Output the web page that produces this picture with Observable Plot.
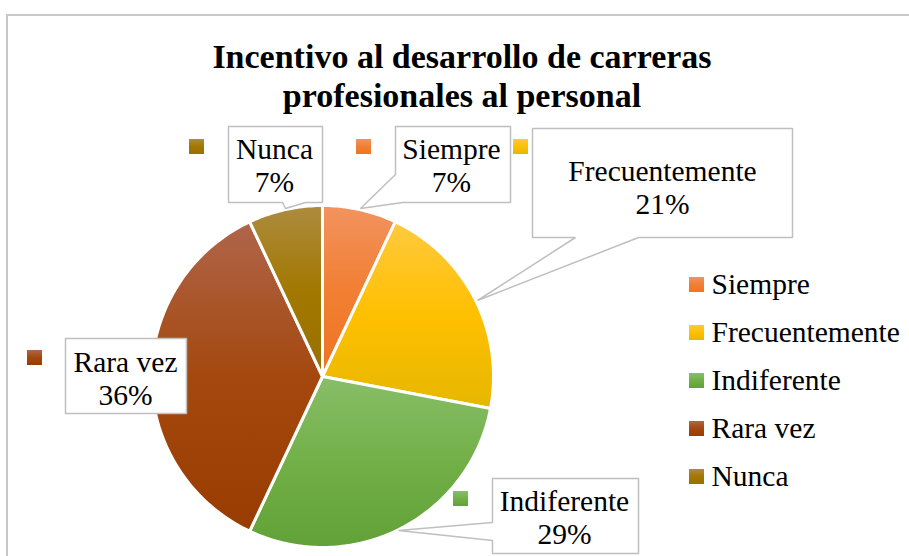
<!DOCTYPE html>
<html><head><meta charset="utf-8">
<script src="https://cdn.jsdelivr.net/npm/d3@7"></script>
<script src="https://cdn.jsdelivr.net/npm/@observablehq/plot@0.6"></script>
<style>
html,body{margin:0;padding:0;background:#fff;overflow:hidden;}
#wrap{position:relative;width:909px;height:556px;overflow:hidden;}
#frame{position:absolute;left:6px;top:14px;width:1000px;height:1000px;border-left:2px solid #c8c8c8;border-top:2px solid #c8c8c8;pointer-events:none;}
#title{margin:0;padding-top:37px;padding-left:15px;width:894px;height:78px;text-align:center;font:bold 34px/39px "Liberation Serif","Times New Roman",serif;color:#000;}
#chart svg{display:block}
</style></head>
<body><div id="wrap"><div id="frame"></div><div id="title">Incentivo al desarrollo de carreras<br>profesionales al personal</div><div id="chart"></div></div>
<script>
// ---- data ----
const names = ["Siempre", "Frecuentemente", "Indiferente", "Rara vez", "Nunca"];
const percents = [7, 21, 29, 36, 7];
// gradient colours per slice (top, middle, bottom)
const topColors = ["#F2935F", "#FFC93F", "#88BE69", "#B0654A", "#AD8B3F"];
const midColors = ["#F17F33", "#FFC000", "#72B047", "#A4480F", "#A27800"];
const bottomColors = ["#EE7420", "#E6B700", "#61A138", "#993C00", "#9A7000"];

// ---- layout (page pixels) ----
const TOP = 115, W = 909, H = 556 - TOP;
const PIE = {cx: 322, cy: 376, r: 171};
const calloutShapes = [
  [[395,126],[510,126],[510,202],[402,202],[360,208],[395,174]],
  [[532,128],[792,128],[792,237],[638,237],[477,300],[575,237],[532,237]],
  [[492,478],[638,478],[638,553],[492,553],[492,540],[398,530],[492,522]],
  [[65,338],[186,338],[186,413],[65,413]],
  [[228,126],[322,126],[322,202],[305,202],[285,208],[282,202],[228,202]]
];
const labelCenters = [[451,164],[662,186],[564,516],[125,377],[274,164]];
const labelKeys = [[356,139],[513,139],[453,491],[27,350],[189,139]];
const KEY = 15;
const LEGEND = {x: 689, y: 277, step: 48, textX: 711};
const FONT = "'Liberation Serif','Times New Roman',serif";
const FS = 29.5;

// ---- derived tables ----
const arcs = d3.pie().sort(null).value(d => d)(percents);
const slicePoints = [];
arcs.forEach((a, i) => {
  slicePoints.push({name: names[i], x: PIE.cx, y: PIE.cy});
  const n = Math.max(2, Math.ceil((a.endAngle - a.startAngle) / (Math.PI / 180)));
  for (let k = 0; k <= n; k++) {
    const t = a.startAngle + (a.endAngle - a.startAngle) * k / n;
    slicePoints.push({name: names[i], x: PIE.cx + PIE.r * Math.sin(t), y: PIE.cy - PIE.r * Math.cos(t)});
  }
});
const calloutPoints = calloutShapes.flatMap((pts, i) => pts.map(([x, y]) => ({name: names[i], x, y})));
const labels = names.map((n, i) => ({name: n, x: labelCenters[i][0], y: labelCenters[i][1], text: `${n}\n${percents[i]}%`}));
const keys = names.map((n, i) => ({name: n, x1: labelKeys[i][0], x2: labelKeys[i][0] + KEY, y1: labelKeys[i][1], y2: labelKeys[i][1] + KEY}));
const legendRows = names.map((n, i) => ({name: n, x1: LEGEND.x, x2: LEGEND.x + KEY, y1: LEGEND.y + i * LEGEND.step, y2: LEGEND.y + i * LEGEND.step + KEY, tx: LEGEND.textX, ty: LEGEND.y + i * LEGEND.step + KEY / 2 - 0.5}));

const chart = Plot.plot({
  width: W, height: H, margin: 0,
  x: {domain: [0, W], range: [0, W], axis: null},
  y: {domain: [TOP, 556], range: [0, H], axis: null},
  color: {type: "ordinal", domain: names, range: names.map((_, i) => `url(#grad${i})`)},
  style: {fontFamily: FONT, background: "transparent", overflow: "visible"},
  marks: [
    Plot.line(slicePoints, {x: "x", y: "y", z: "name", fill: "name", stroke: "white", strokeWidth: 3, curve: "linear-closed", strokeLinejoin: "round"}),
    Plot.rect(keys, {x1: "x1", x2: "x2", y1: "y1", y2: "y2", fill: "name"}),
    Plot.line(calloutPoints, {x: "x", y: "y", z: "name", fill: "white", stroke: "#bfbfbf", strokeWidth: 1.5, curve: "linear-closed", strokeLinejoin: "miter", strokeLinecap: "butt"}),
    Plot.text(labels, {x: "x", y: "y", text: "text", fontSize: FS, fontFamily: FONT, lineHeight: 33 / FS, fill: "black", textAnchor: "middle"}),
    Plot.rect(legendRows, {x1: "x1", x2: "x2", y1: "y1", y2: "y2", fill: "name"}),
    Plot.text(legendRows, {x: "tx", y: "ty", text: "name", fontSize: FS, fontFamily: FONT, fill: "black", textAnchor: "start"})
  ]
});

const defs = d3.select(chart).insert("defs", ":first-child");
names.forEach((n, i) => {
  const g = defs.append("linearGradient").attr("id", `grad${i}`).attr("x1", 0).attr("y1", 0).attr("x2", 0).attr("y2", 1);
  g.append("stop").attr("offset", "0%").attr("stop-color", topColors[i]);
  g.append("stop").attr("offset", "50%").attr("stop-color", midColors[i]);
  g.append("stop").attr("offset", "100%").attr("stop-color", bottomColors[i]);
});
document.getElementById("chart").appendChild(chart);
</script></body></html>
